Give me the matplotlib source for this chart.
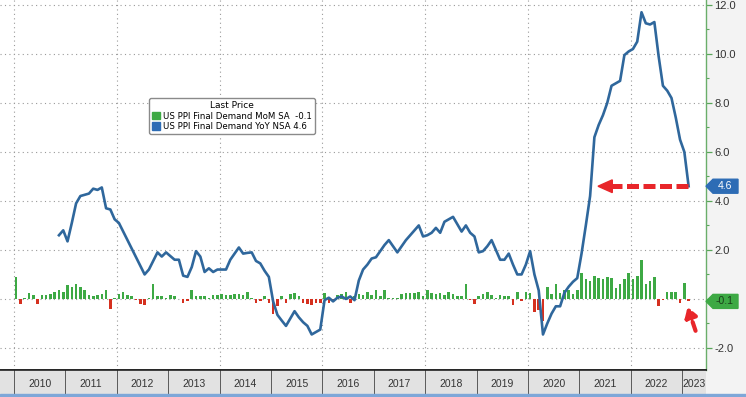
import matplotlib.pyplot as plt
import numpy as np
from matplotlib.patches import Patch, Polygon, Rectangle
import matplotlib.transforms as mtransforms

plt.rcParams['font.family'] = ['Liberation Sans Narrow', 'Liberation Sans', 'DejaVu Sans']

# US PPI Final Demand YoY NSA (%), Nov 2010 .. Feb 2023
yoy_2010 = [2.6, 2.8]
yoy_2011 = [2.35, 3.1, 3.9, 4.2, 4.25, 4.3, 4.5, 4.45, 4.55, 3.7, 3.65, 3.25]
yoy_2012 = [3.1, 2.75, 2.4, 2.05, 1.7, 1.35, 1.0, 1.2, 1.55, 1.9, 1.73, 1.9]
yoy_2013 = [1.75, 1.6, 1.6, 0.95, 0.9, 1.3, 1.95, 1.73, 1.1, 1.25, 1.1, 1.2]
yoy_2014 = [1.2, 1.2, 1.6, 1.85, 2.1, 1.85, 1.88, 1.9, 1.55, 1.45, 1.15, 0.9]
yoy_2015 = [-0.1, -0.65, -0.88, -1.1, -0.8, -0.5, -0.75, -0.95, -1.1, -1.45, -1.35, -1.25]
yoy_2016 = [-0.05, 0.05, -0.1, 0.05, 0.1, 0.0, 0.1, -0.05, 0.75, 1.2, 1.4, 1.65]
yoy_2017 = [1.7, 1.95, 2.2, 2.4, 2.15, 1.9, 2.15, 2.4, 2.6, 2.8, 3.0, 2.55]
yoy_2018 = [2.6, 2.7, 2.9, 2.7, 3.15, 3.25, 3.35, 3.05, 2.75, 3.0, 2.7, 2.55]
yoy_2019 = [1.9, 1.95, 2.15, 2.4, 2.0, 1.6, 1.6, 1.85, 1.4, 1.0, 1.0, 1.4]
yoy_2020 = [1.95, 1.0, 0.35, -1.45, -1.0, -0.6, -0.3, -0.3, 0.25, 0.5, 0.7, 0.85]
yoy_2021 = [1.85, 3.0, 4.2, 6.6, 7.1, 7.5, 8.0, 8.7, 8.8, 8.9, 9.95, 10.1]
yoy_2022 = [10.2, 10.5, 11.7, 11.25, 11.2, 11.3, 9.9, 8.7, 8.5, 8.2, 7.4, 6.5]
yoy_2023 = [6.0, 4.6]

# US PPI Final Demand MoM SA (%), Jan 2010 .. Feb 2023
mom_2010 = [0.9, -0.2, 0.05, 0.25, 0.15, -0.2, 0.15, 0.15, 0.2, 0.3, 0.35, 0.3]
mom_2011 = [0.55, 0.5, 0.6, 0.5, 0.35, 0.15, 0.1, 0.15, 0.2, 0.35, -0.4, 0.05]
mom_2012 = [0.2, 0.3, 0.15, 0.1, -0.05, -0.2, -0.25, 0.05, 0.6, 0.1, 0.1, 0.05]
mom_2013 = [0.15, 0.1, 0.0, -0.15, -0.1, 0.35, 0.1, 0.1, 0.1, 0.05, 0.15, 0.15]
mom_2014 = [0.2, 0.15, 0.15, 0.2, 0.2, 0.15, 0.3, 0.05, -0.15, -0.1, 0.1, -0.15]
mom_2015 = [-0.6, -0.3, 0.1, -0.15, 0.2, 0.25, 0.1, -0.15, -0.2, -0.25, -0.15, -0.15]
mom_2016 = [0.25, -0.15, -0.1, 0.15, 0.2, 0.3, -0.15, 0.1, 0.2, 0.15, 0.3, 0.15]
mom_2017 = [0.35, 0.1, 0.35, 0.05, 0.05, 0.05, 0.2, 0.25, 0.25, 0.25, 0.3, 0.1]
mom_2018 = [0.35, 0.25, 0.2, 0.25, 0.15, 0.3, 0.2, 0.1, 0.1, 0.6, -0.05, -0.2]
mom_2019 = [0.1, 0.2, 0.3, 0.15, 0.05, 0.15, 0.1, 0.1, -0.25, 0.3, -0.1, 0.3]
mom_2020 = [0.25, -0.55, -0.45, -0.9, 0.5, 0.2, 0.6, 0.25, 0.35, 0.35, 0.2, 0.35]
mom_2021 = [1.05, 0.8, 0.75, 0.95, 0.85, 0.8, 0.9, 0.85, 0.45, 0.6, 0.8, 1.05]
mom_2022 = [0.8, 0.95, 1.6, 0.6, 0.75, 0.9, -0.3, -0.05, 0.3, 0.3, 0.3, -0.15]
mom_2023 = [0.65, -0.1]

years = list(range(2010, 2024))
y_ticks = [-2, 0, 2, 4, 6, 8, 10, 12]

GREEN = "#3da944"
RED = "#d5301f"
BLUE_LINE = "#2f679c"
BLUE_TAG = "#2d6cb5"
ARROW_RED = "#e8262a"


def main():
    yoy = np.array(yoy_2010 + yoy_2011 + yoy_2012 + yoy_2013 + yoy_2014 + yoy_2015 + yoy_2016
                   + yoy_2017 + yoy_2018 + yoy_2019 + yoy_2020 + yoy_2021 + yoy_2022 + yoy_2023)
    mom = np.array(mom_2010 + mom_2011 + mom_2012 + mom_2013 + mom_2014 + mom_2015 + mom_2016
                   + mom_2017 + mom_2018 + mom_2019 + mom_2020 + mom_2021 + mom_2022 + mom_2023)
    # monthly positions as decimal years (mid-month)
    yoy_x = 2010 + (np.arange(len(yoy)) + 10 + 0.5) / 12
    mom_x = 2010 + (np.arange(len(mom)) + 0.5) / 12

    fig = plt.figure(figsize=(7.46, 3.97), dpi=100, facecolor="#f3f3f3")
    W, H = 746, 397
    ax = fig.add_axes([0, 27 / H, 706 / W, 370 / H])
    ax.set_facecolor("white")
    ax.set_xlim(2009.728, 2023.463)
    ax.set_ylim(-2.9, 12.2)

    # bars (MoM) and line (YoY)
    ax.bar(mom_x, mom, width=0.05, color=np.where(mom >= 0, GREEN, RED), zorder=2)
    ax.plot(yoy_x, yoy, color=BLUE_LINE, lw=1.9, zorder=3, solid_joinstyle="round")

    # grid
    ax.set_xticks(years[::2])
    ax.set_yticks(y_ticks)
    ax.set_yticks([-1, 1, 3, 5, 7, 9, 11], minor=True)
    ax.grid(True, which="major", color="#9a9a9a", lw=0.8, ls=(0, (1, 3)))
    ax.tick_params(axis="x", length=0, labelbottom=False)
    ax.yaxis.tick_right()
    # the 0.0 label sits under the MoM last-value tag, so it is left blank
    ax.set_yticklabels(["" if v == 0 else f"{v:.1f}" for v in y_ticks])
    ax.tick_params(axis="y", which="major", color="#5aa55a", length=4, width=0.9,
                   pad=2, labelsize=8, labelcolor="#333333")
    ax.tick_params(axis="y", which="minor", color="#5aa55a", length=2.5, width=0.8)
    for side in ("left", "top"):
        ax.spines[side].set_visible(False)
    ax.spines["right"].set_color("#6aae6a")
    ax.spines["right"].set_linewidth(1.0)
    ax.spines["bottom"].set_color("#222222")
    ax.spines["bottom"].set_linewidth(1.2)

    # last-value tags on the right axis
    blend = mtransforms.blended_transform_factory(ax.transAxes, ax.transData)
    px_x, px_y = 1 / 706, 1 / 24.5
    for val, fc, tc in [(yoy[-1], BLUE_TAG, "white"), (mom[-1], GREEN, "#1a3d1a")]:
        verts = [(1, val), (1 + 7 * px_x, val + 7 * px_y), (1 + 32 * px_x, val + 7 * px_y),
                 (1 + 32 * px_x, val - 7 * px_y), (1 + 7 * px_x, val - 7 * px_y)]
        ax.add_patch(Polygon(verts, closed=True, fc=fc, ec=fc, transform=blend,
                             clip_on=False, zorder=10))
        ax.text(1 + 19 * px_x, val, f"{val:.1f}", transform=blend, ha="center", va="center",
                fontsize=7.5, color=tc, zorder=11, clip_on=False)

    # red dashed arrow pointing at the YoY level
    y_arrow = yoy[-1]
    ax.plot([2023.113, 2021.64], [y_arrow, y_arrow], color=ARROW_RED, lw=3.6,
            dashes=(2.4, 0.9), solid_capstyle="butt", zorder=6)
    ax.add_patch(Polygon([(2021.362, y_arrow), (2021.64, y_arrow + 0.26),
                          (2021.64, y_arrow - 0.26)], closed=True, fc=ARROW_RED,
                         ec=ARROW_RED, zorder=6))
    # small arrow at the last MoM bar
    ax.annotate("", xy=(2023.105, -0.33), xytext=(2023.26, -1.3),
                arrowprops=dict(arrowstyle="-|>,head_width=0.35,head_length=0.55",
                                color=ARROW_RED, lw=3.0, linestyle=(0, (2.2, 0.9)),
                                shrinkA=0, shrinkB=0), zorder=6)

    # legend
    handles = [Patch(color=GREEN), Patch(color=BLUE_TAG)]
    labels = [f"US PPI Final Demand MoM SA  {mom[-1]:.1f}",
              f"US PPI Final Demand YoY NSA {yoy[-1]:.1f}"]
    leg = fig.legend(handles, labels, title="Last Price", loc="upper left",
                     bbox_to_anchor=(145 / W, 1 - 94 / H), prop={"family": "DejaVu Sans", "size": 6.2},
                     title_fontproperties={"family": "DejaVu Sans", "size": 6.5},
                     frameon=True, fancybox=True, framealpha=1, edgecolor="#8a8a8a",
                     handlelength=0.9, handleheight=0.9, handletextpad=0.3,
                     borderpad=0.35, labelspacing=0.15)
    leg.get_frame().set_linewidth(1.0)

    # year band along the bottom
    band = fig.add_axes([0, 3 / H, 706 / W, 24 / H])
    band.set_facecolor("#e2e2e2")
    band.set_xlim(ax.get_xlim())
    band.set_ylim(0, 1)
    band.set_xticks([])
    band.set_yticks([])
    for side in ("left", "right", "bottom"):
        band.spines[side].set_visible(False)
    band.spines["top"].set_color("#222222")
    band.spines["top"].set_linewidth(1.2)
    for yr in years:
        band.axvline(yr, color="#5a5a5a", lw=0.7)
        x_lab = yr + 0.5 if yr < 2023 else (yr + band.get_xlim()[1]) / 2
        band.text(x_lab, 0.4, str(yr), ha="center", va="center", fontsize=7.5, color="#333333")

    fig.patches.append(Rectangle((0, 0), 1, 3 / H, transform=fig.transFigure,
                                 color="#7ea7d8", zorder=0))

    fig.savefig("out.png", dpi=100, facecolor=fig.get_facecolor())


if __name__ == "__main__":
    main()
